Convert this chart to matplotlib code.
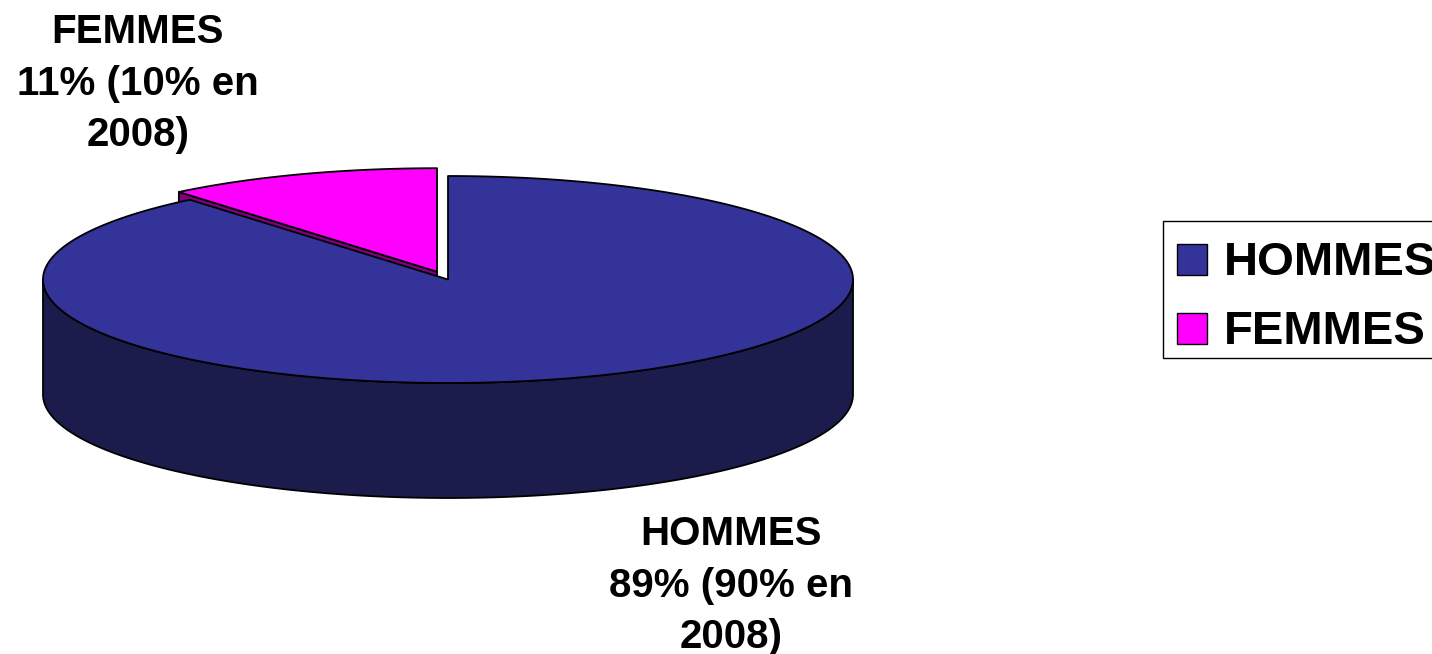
import numpy as np
import matplotlib
matplotlib.use("Agg")
import matplotlib.pyplot as plt
from matplotlib.patches import Polygon, Rectangle

# ---- data ----
categories = ["HOMMES", "FEMMES"]
shares = [89, 11]
shares_2008 = [90, 10]
ref_year = 2008
top_colors = ["#333399", "#ff00ff"]
side_colors = ["#1c1c4c", "#800080"]
explode = [0.0, 0.08]

# ---- geometry (pixels) ----
W, H = 1432, 654
cx, cy = 448, 279.5
rx, ry = 405, 103.5
depth = 115

fig = plt.figure(figsize=(W / 100, H / 100), dpi=100)
ax = fig.add_axes([0, 0, 1, 1])
ax.set_xlim(0, W)
ax.set_ylim(H, 0)
ax.axis("off")

FONT = "Liberation Sans"
FS_LABEL = 29
FS_LEG = 34


def pt(theta_deg, ox=0.0, oy=0.0, dz=0.0):
    t = np.deg2rad(theta_deg)
    return np.column_stack([cx + ox + rx * np.cos(t), cy + oy - ry * np.sin(t) + dz])


# angles: FEMMES starts at 12 o'clock going counter-clockwise, HOMMES fills the rest
start = 90.0
f_idx, h_idx = 1, 0
total = float(sum(shares))
f_span = 360.0 * shares[f_idx] / total
f_a0, f_a1 = start, start + f_span
h_a0, h_a1 = f_a1, start + 360.0

# explode offset for FEMMES along bisector
mid = np.deg2rad((f_a0 + f_a1) / 2)
fox = explode[f_idx] * rx * np.cos(mid)
foy = -explode[f_idx] * ry * np.sin(mid)

ekw = dict(edgecolor="black", linewidth=1.3, joinstyle="round")

# FEMMES radial side face (at the cut facing HOMMES)
apex_f = np.array([cx + fox, cy + foy])
edge_f = pt(f_a1, fox, foy)[0]
face = np.array([apex_f, edge_f, edge_f + [0, depth], apex_f + [0, depth]])
ax.add_patch(Polygon(face, closed=True, facecolor=side_colors[f_idx], **ekw))

# FEMMES top
arc_f = pt(np.linspace(f_a0, f_a1, 80), fox, foy)
ax.add_patch(Polygon(np.vstack([apex_f, arc_f]), closed=True,
                     facecolor=top_colors[f_idx], **ekw))

# HOMMES outer side (front half)
th = np.linspace(180, 360, 200)
top_arc = pt(th)
bot_arc = pt(th[::-1], dz=depth)
ax.add_patch(Polygon(np.vstack([top_arc, bot_arc]), closed=True,
                     facecolor=side_colors[h_idx], **ekw))

# HOMMES top
arc_h = pt(np.linspace(h_a0, h_a1, 400))
ax.add_patch(Polygon(np.vstack([[cx, cy], arc_h]), closed=True,
                     facecolor=top_colors[h_idx], **ekw))

# ---- data labels ----
label_pos = {"FEMMES": (138, [43, 95, 146]), "HOMMES": (731, [545, 597, 648])}
for cat, v, v08 in zip(categories, shares, shares_2008):
    lines = [cat, f"{v}% ({v08}% en", f"{ref_year})"]
    x, ys = label_pos[cat]
    for line, y in zip(lines, ys):
        ax.text(x, y, line, ha="center", va="baseline", fontsize=FS_LABEL,
                fontweight="bold", family=FONT, color="black")

# ---- legend (clipped at right edge like the reference) ----
ax.add_patch(Rectangle((1163, 221), 400, 137, facecolor="white",
                       edgecolor="black", linewidth=1.0))
leg_base = [275, 344]
for cat, col, yb in zip(categories, top_colors, leg_base):
    ax.add_patch(Rectangle((1177, yb - 31), 30, 31, facecolor=col,
                           edgecolor="black", linewidth=1.0))
    ax.text(1224, yb, cat, ha="left", va="baseline", fontsize=FS_LEG,
            fontweight="bold", family=FONT, color="black")

fig.savefig("out.png", dpi=100)
